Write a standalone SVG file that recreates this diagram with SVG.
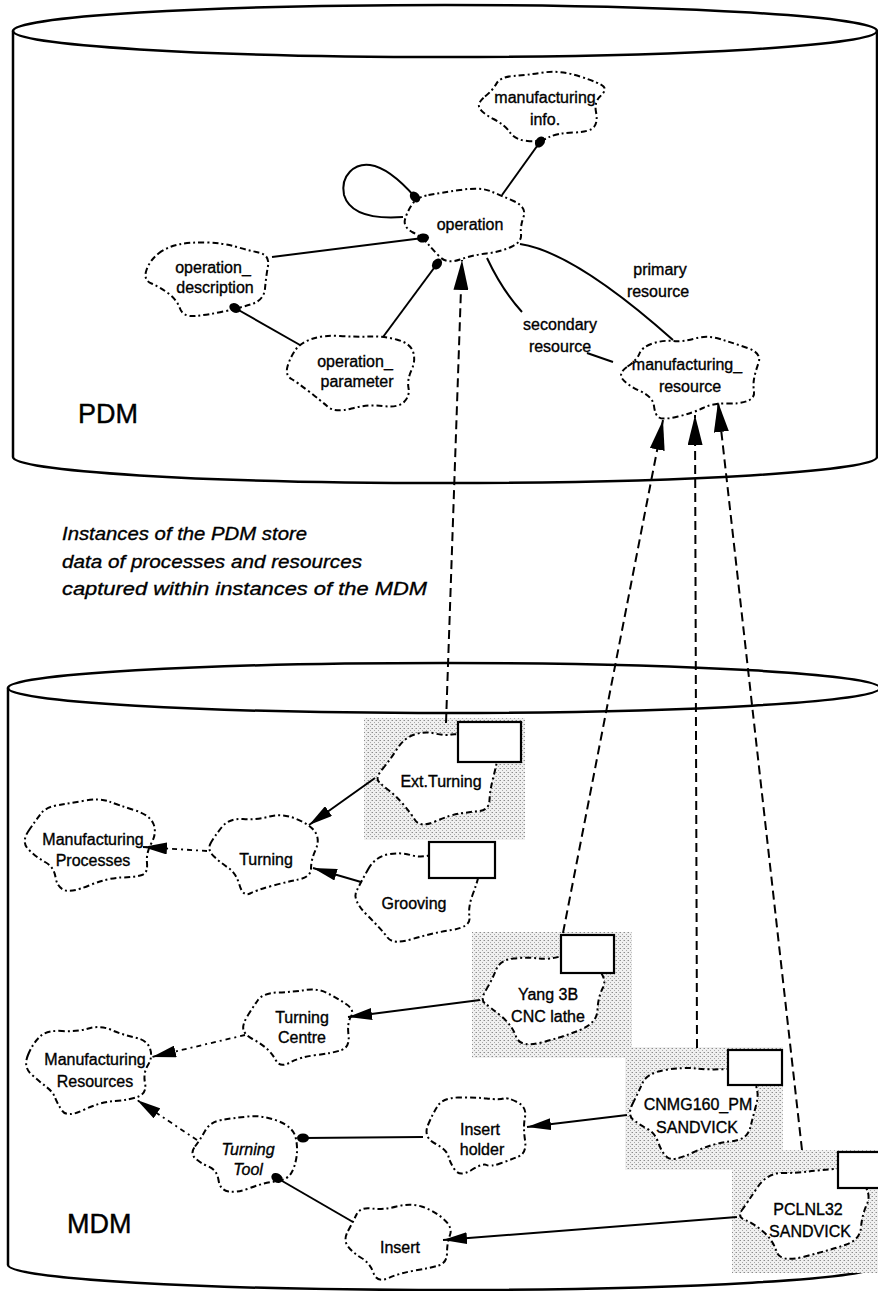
<svg xmlns="http://www.w3.org/2000/svg" width="878" height="1291" viewBox="0 0 878 1291">
  <style>
    .drum { fill: none; stroke: #000; stroke-width: 2.5; stroke-linecap: round; }
    .cloud { fill: #fff; stroke: #000; stroke-width: 2; stroke-dasharray: 6 3 2 3; stroke-linejoin: round; }
    .box { fill: #fff; stroke: #000; stroke-width: 2.2; }
    .shade { fill: url(#stipple); }
    .t { font-family: "Liberation Sans", Arial, sans-serif; font-size: 16px; fill: #000; stroke: #000; stroke-width: 0.35; text-anchor: middle; }
    .ti { font-style: italic; }
    .big { font-family: "Liberation Sans", Arial, sans-serif; font-size: 27px; fill: #000; stroke: #000; stroke-width: 0.4; }
    .note { font-family: "Liberation Sans", Arial, sans-serif; font-size: 19px; font-style: italic; fill: #000; stroke: #000; stroke-width: 0.35; }
    .solid { fill: none; stroke: #000; stroke-width: 2; }
    .dash { fill: none; stroke: #000; stroke-width: 1.8; stroke-dasharray: 5 4 2 4; }
    .long { fill: none; stroke: #000; stroke-width: 2; stroke-dasharray: 9 5; }
  </style>
  <defs>
    <pattern id="stipple" width="4" height="4" patternUnits="userSpaceOnUse">
      <rect width="4" height="4" fill="#f0f0f0"/>
      <rect x="0" y="0" width="1" height="1" fill="#8c8c8c"/>
      <rect x="2" y="2" width="1" height="1" fill="#a8a8a8"/>
      <rect x="3" y="0" width="1" height="1" fill="#c4c4c4"/>
    </pattern>
    <marker id="arr" viewBox="0 0 24 12" markerWidth="24" markerHeight="12" refX="24" refY="6" orient="auto" markerUnits="userSpaceOnUse">
      <path d="M0,0 L24,6 L0,12 Z" fill="#000"/>
    </marker>
    <marker id="bigarr" viewBox="0 0 30 15" markerWidth="30" markerHeight="15" refX="30" refY="7.5" orient="auto" markerUnits="userSpaceOnUse">
      <path d="M0,0 L30,7.5 L0,15 Z" fill="#000"/>
    </marker>
    <marker id="dot" viewBox="-7 -5 14 10" markerWidth="14" markerHeight="10" refX="0" refY="0" orient="auto" markerUnits="userSpaceOnUse">
      <ellipse cx="0" cy="0" rx="6" ry="4.5" fill="#000"/>
    </marker>
  </defs>

  <rect width="878" height="1291" fill="#fff"/>

  <!-- database drums -->
  <g id="cylinders">
    <g id="pdm-drum">
      <ellipse class="drum" cx="445" cy="31" rx="432" ry="26"/>
      <path class="drum" d="M13,31 L13,457 A432,26 0 0 0 877,457 L877,31"/>
    </g>
    <g id="mdm-drum">
      <ellipse class="drum" cx="444" cy="688" rx="436" ry="25"/>
      <path class="drum" d="M8,688 L8,1265 A436,25 0 0 0 880,1265 L880,688"/>
    </g>
  </g>

  <!-- stippled instance panels -->
  <g id="panels">
    <rect class="shade" x="364" y="718" width="161" height="122"/>
    <rect class="shade" x="472" y="932" width="160" height="126"/>
    <rect class="shade" x="625" y="1047" width="158" height="123"/>
    <rect class="shade" x="732" y="1150" width="146" height="123"/>
  </g>

  <g id="nodes">
    <!-- PDM schema -->
    <g id="manufacturing-info">
      <path class="cloud" d="M485,96.5 Q493,90 496.5,83.5 Q500,77 513.5,76 Q527,75 543.5,72.5 Q560,70 580,76.5 Q600,83 603.5,86.5 Q607,90 600.5,96 Q594,102 596,112 Q598,122 594,127 Q590,132 573.5,132.5 Q557,133 548.5,137.5 Q540,142 527.5,141 Q515,140 510,132.5 Q505,125 493.5,119 Q482,113 479.5,108 Q477,103 485,96.5 Z"/>
      <text class="t" x="545" y="103">manufacturing</text>
      <text class="t" x="545" y="125">info.</text>
    </g>
    <g id="operation">
      <path class="cloud" d="M428.5,195 Q440,193 460,190 Q480,187 490,191 Q500,195 513.5,201 Q527,207 523.5,217 Q520,227 521,234.5 Q522,242 511,247 Q500,252 486.5,253.5 Q473,255 460,259.5 Q447,264 440,257 Q433,250 428,244 Q423,238 413,232.5 Q403,227 405,219.5 Q407,212 412,204.5 Q417,197 428.5,195 Z"/>
      <text class="t" x="470" y="230">operation</text>
    </g>
    <g id="operation-description">
      <path class="cloud" d="M158.5,253.5 Q167,247 178.5,244.5 Q190,242 206.5,242.5 Q223,243 235,246.5 Q247,250 258.5,252.5 Q270,255 268,266 Q266,277 265,288.5 Q264,300 252,304 Q240,308 223.5,311.5 Q207,315 195,316 Q183,317 180,308.5 Q177,300 168.5,293.5 Q160,287 151.5,283.5 Q143,280 146.5,270 Q150,260 158.5,253.5 Z"/>
      <text class="t" x="213" y="273">operation_</text>
      <text class="t" x="215" y="293">description</text>
    </g>
    <g id="operation-parameter">
      <path class="cloud" d="M311.5,339 Q323,335 340,336 Q357,337 370,336.5 Q383,336 396.5,339.5 Q410,343 413,351.5 Q416,360 411.5,370 Q407,380 408.5,388 Q410,396 404,402 Q398,408 383,406 Q368,404 351.5,408.5 Q335,413 327.5,406.5 Q320,400 309,391.5 Q298,383 291.5,379 Q285,375 287.5,366.5 Q290,358 295,350.5 Q300,343 311.5,339 Z"/>
      <text class="t" x="355" y="367">operation_</text>
      <text class="t" x="357" y="387">parameter</text>
    </g>
    <g id="manufacturing-resource">
      <path class="cloud" d="M627.5,366.5 Q637,360 639.5,353.5 Q642,347 652.5,343.5 Q663,340 673,341 Q683,342 695,338.5 Q707,335 720,339 Q733,343 747.5,348 Q762,353 758.5,363 Q755,373 754,379 Q753,385 754,391.5 Q755,398 747.5,401 Q740,404 726.5,403.5 Q713,403 703,408 Q693,413 678,416.5 Q663,420 659,417.5 Q655,415 654,406 Q653,397 640,391 Q627,385 622.5,379 Q618,373 627.5,366.5 Z"/>
      <text class="t" x="687" y="370">manufacturing_</text>
      <text class="t" x="690" y="392">resource</text>
    </g>

    <!-- MDM classes and instances -->
    <g id="manufacturing-processes">
      <path class="cloud" d="M28.5,831 Q36,820 41,813.5 Q46,807 58.5,805 Q71,803 85.5,800.5 Q100,798 109,801.5 Q118,805 134,810 Q150,815 153.5,824 Q157,833 151.5,843 Q146,853 147,863 Q148,873 142,875 Q136,877 121.5,877.5 Q107,878 89,885.5 Q71,893 64,890 Q57,887 55.5,877 Q54,867 45,862 Q36,857 28.5,849.5 Q21,842 28.5,831 Z"/>
      <text class="t" x="93" y="845">Manufacturing</text>
      <text class="t" x="93" y="866">Processes</text>
    </g>
    <g id="turning">
      <path class="cloud" d="M210.5,843.5 Q214,837 221.5,827.5 Q229,818 243,819 Q257,820 269.5,816.5 Q282,813 296.5,819 Q311,825 315.5,832.5 Q320,840 315.5,850 Q311,860 311,868.5 Q311,877 298.5,879.5 Q286,882 271.5,886 Q257,890 250,893.5 Q243,897 239.5,885 Q236,873 228.5,868 Q221,863 214,856.5 Q207,850 210.5,843.5 Z"/>
      <text class="t" x="266" y="865">Turning</text>
    </g>
    <g id="ext-turning">
      <path class="cloud" d="M382.5,769 Q390,760 397,749 Q404,738 414.5,734.5 Q425,731 435,733.5 Q445,736 451.5,734.5 Q458,733 479,739 Q500,745 498,756 Q496,767 493,778.5 Q490,790 489.5,800 Q489,810 479.5,811 Q470,812 460,813.5 Q450,815 435,821.5 Q420,828 415,820 Q410,812 402.5,803.5 Q395,795 389,790.5 Q383,786 379,782 Q375,778 382.5,769 Z"/>
      <rect class="box" x="458" y="722" width="63" height="40"/>
      <text class="t" x="441" y="787">Ext.Turning</text>
    </g>
    <g id="grooving">
      <path class="cloud" d="M368,869.5 Q375,857 387.5,854.5 Q400,852 410.5,855 Q421,858 430.5,855 Q440,852 460,861 Q480,870 478.5,876.5 Q477,883 472.5,895 Q468,907 469.5,917 Q471,927 451.5,930 Q432,933 412.5,939 Q393,945 387.5,937.5 Q382,930 367,915 Q352,900 356.5,891 Q361,882 368,869.5 Z"/>
      <rect class="box" x="429" y="842" width="66" height="36"/>
      <text class="t" x="414" y="909">Grooving</text>
    </g>
    <g id="yang-3b">
      <path class="cloud" d="M486,990 Q492,980 496,970 Q500,960 513.5,958.5 Q527,957 538.5,958.5 Q550,960 565,955 Q580,950 594,964 Q608,978 603,987.5 Q598,997 597.5,1010 Q597,1023 580,1030 Q563,1037 541.5,1042.5 Q520,1048 516,1036.5 Q512,1025 501,1016 Q490,1007 485,1003.5 Q480,1000 486,990 Z"/>
      <rect class="box" x="561" y="935" width="53" height="38"/>
      <text class="t" x="548" y="1000">Yang 3B</text>
      <text class="t" x="548" y="1022">CNC lathe</text>
    </g>
    <g id="turning-centre">
      <path class="cloud" d="M247.5,1016 Q253,1007 258,1000 Q263,993 278,992.5 Q293,992 305,990 Q317,988 327,993 Q337,998 346,1004 Q355,1010 351,1016.5 Q347,1023 348.5,1035 Q350,1047 341.5,1050 Q333,1053 316.5,1055 Q300,1057 290,1062.5 Q280,1068 276,1060.5 Q272,1053 266,1048 Q260,1043 252.5,1039 Q245,1035 243.5,1030 Q242,1025 247.5,1016 Z"/>
      <text class="t" x="302" y="1023">Turning</text>
      <text class="t" x="302" y="1043">Centre</text>
    </g>
    <g id="manufacturing-resources">
      <path class="cloud" d="M28,1055 Q33,1043 40,1036.5 Q47,1030 62,1031 Q77,1032 88.5,1028.5 Q100,1025 111.5,1030 Q123,1035 135,1037.5 Q147,1040 150,1048.5 Q153,1057 148,1065 Q143,1073 145,1083 Q147,1093 138.5,1096.5 Q130,1100 115,1101 Q100,1102 83.5,1110 Q67,1118 62,1110.5 Q57,1103 55,1097.5 Q53,1092 46.5,1087 Q40,1082 31.5,1074.5 Q23,1067 28,1055 Z"/>
      <text class="t" x="95" y="1065">Manufacturing</text>
      <text class="t" x="95" y="1087">Resources</text>
    </g>
    <g id="turning-tool">
      <path class="cloud" d="M195,1146.5 Q200,1140 205,1131 Q210,1122 221.5,1120 Q233,1118 248,1116.5 Q263,1115 278,1121 Q293,1127 295.5,1137 Q298,1147 296.5,1157 Q295,1167 291,1173.5 Q287,1180 275,1181.5 Q263,1183 250,1188 Q237,1193 228.5,1191.5 Q220,1190 218.5,1180 Q217,1170 208.5,1166.5 Q200,1163 195,1158 Q190,1153 195,1146.5 Z"/>
      <text class="t ti" x="248" y="1155">Turning</text>
      <text class="t ti" x="248" y="1175">Tool</text>
    </g>
    <g id="insert-holder">
      <path class="cloud" d="M428,1125 Q433,1113 438,1105.5 Q443,1098 458,1097.5 Q473,1097 486.5,1098.5 Q500,1100 503.5,1098.5 Q507,1097 517,1102 Q527,1107 525,1117 Q523,1127 525,1140 Q527,1153 518.5,1156.5 Q510,1160 500,1163.5 Q490,1167 486.5,1165 Q483,1163 471.5,1170 Q460,1177 455,1170 Q450,1163 448.5,1156.5 Q447,1150 435,1143.5 Q423,1137 428,1125 Z"/>
      <text class="t" x="480" y="1135">Insert</text>
      <text class="t" x="482" y="1155">holder</text>
    </g>
    <g id="cnmg160-pm">
      <path class="cloud" d="M632.5,1104 Q638,1093 642.5,1083 Q647,1073 665,1070 Q683,1067 696.5,1068.5 Q710,1070 727.5,1069 Q745,1068 752.5,1079 Q760,1090 756.5,1103.5 Q753,1117 750,1128.5 Q747,1140 730,1141.5 Q713,1143 693,1152.5 Q673,1162 667.5,1157.5 Q662,1153 658.5,1143 Q655,1133 647.5,1129 Q640,1125 633.5,1120 Q627,1115 632.5,1104 Z"/>
      <rect class="box" x="728" y="1050" width="54" height="35"/>
      <text class="t" x="698" y="1110">CNMG160_PM</text>
      <text class="t" x="697" y="1133">SANDVICK</text>
    </g>
    <g id="insert">
      <path class="cloud" d="M348,1231 Q353,1222 356.5,1214.5 Q360,1207 371.5,1208.5 Q383,1210 396.5,1206.5 Q410,1203 421.5,1206.5 Q433,1210 443,1218.5 Q453,1227 450,1235 Q447,1243 447,1253 Q447,1263 438.5,1265.5 Q430,1268 415,1270.5 Q400,1273 388.5,1278 Q377,1283 373.5,1273 Q370,1263 361.5,1258 Q353,1253 348,1246.5 Q343,1240 348,1231 Z"/>
      <text class="t" x="400" y="1253">Insert</text>
    </g>
    <g id="pclnl32">
      <path class="cloud" d="M742,1210 Q747,1203 757,1188 Q767,1173 782,1173 Q797,1173 808.5,1171.5 Q820,1170 835,1169 Q850,1168 861,1180.5 Q872,1193 867,1204 Q862,1215 861,1227.5 Q860,1240 845,1245 Q830,1250 805,1256.5 Q780,1263 776.5,1251.5 Q773,1240 763,1231.5 Q753,1223 745,1220 Q737,1217 742,1210 Z"/>
      <rect class="box" x="838" y="1152" width="45" height="36"/>
      <text class="t" x="808" y="1215">PCLNL32</text>
      <text class="t" x="810" y="1237">SANDVICK</text>
    </g>
  </g>

  <g id="connectors">
    <!-- PDM associations -->
    <path class="solid" d="M502,195 L540,142" marker-end="url(#dot)"/>
    <path class="solid" d="M403,217 C375,219 350,215 344,195 C340,175 355,163 370,165 C385,167 400,180 415,197" marker-end="url(#dot)"/>
    <path class="solid" d="M272,257 L423,238" marker-end="url(#dot)"/>
    <path class="solid" d="M300,345 L235,308" marker-end="url(#dot)"/>
    <path class="solid" d="M383,337 L437,264" marker-end="url(#dot)"/>
    <path class="solid" d="M520,244 Q574,252 673,340"/>
    <path class="solid" d="M487,258 Q502,290 522,312"/>
    <path class="solid" d="M587,353 L613,362"/>

    <!-- instance-of links from MDM up to PDM -->
    <path class="long" d="M446,723 L462,260" marker-end="url(#bigarr)"/>
    <path class="long" d="M563,933 L663,420" marker-end="url(#bigarr)"/>
    <path class="long" d="M697,1048 L695,415" marker-end="url(#bigarr)"/>
    <path class="long" d="M802,1150 L718,402" marker-end="url(#bigarr)"/>

    <!-- MDM relations -->
    <path class="solid" d="M375,778 L309,825" marker-end="url(#arr)"/>
    <path class="solid" d="M361,882 L313,868" marker-end="url(#arr)"/>
    <path class="dash" d="M207,851 L143,847" marker-end="url(#arr)"/>
    <path class="solid" d="M480,1000 L348,1017" marker-end="url(#arr)"/>
    <path class="dash" d="M245,1035 L152,1057" marker-end="url(#arr)"/>
    <path class="dash" d="M197,1140 L137,1100" marker-end="url(#arr)"/>
    <path class="solid" d="M423,1137 L303,1138" marker-end="url(#dot)"/>
    <path class="solid" d="M353,1222 L277,1178" marker-end="url(#dot)"/>
    <path class="solid" d="M627,1115 L527,1127" marker-end="url(#arr)"/>
    <path class="solid" d="M737,1217 L443,1240" marker-end="url(#arr)"/>
  </g>

  <g id="labels">
    <text class="t" x="660" y="275">primary</text>
    <text class="t" x="658" y="297">resource</text>
    <text class="t" x="560" y="330">secondary</text>
    <text class="t" x="560" y="352">resource</text>
    <text class="big" x="78" y="423">PDM</text>
    <text class="big" x="67" y="1233">MDM</text>
    <text class="note" x="62" y="540" textLength="245" lengthAdjust="spacingAndGlyphs">Instances of the PDM store</text>
    <text class="note" x="62" y="568" textLength="300" lengthAdjust="spacingAndGlyphs">data of processes and resources</text>
    <text class="note" x="62" y="595" textLength="365" lengthAdjust="spacingAndGlyphs">captured within instances of the MDM</text>
  </g>
</svg>
